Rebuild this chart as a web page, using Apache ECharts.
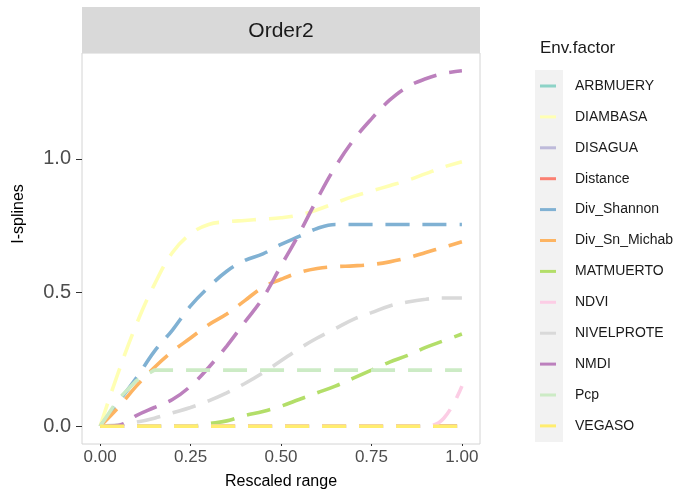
<!DOCTYPE html>
<html>
<head>
<meta charset="utf-8">
<script src="https://cdn.jsdelivr.net/npm/echarts@6/dist/echarts.min.js"></script>
<style>html,body{margin:0;padding:0;background:#fff}#c{width:675px;height:493px}</style>
</head>
<body>
<div id="c"></div>
<script>
const xs = [0,0.05,0.1,0.15,0.2,0.25,0.3,0.35,0.4,0.45,0.5,0.55,0.6,0.65,0.7,0.75,0.8,0.85,0.9,0.95,1.0];
const factors = ['ARBMUERY','DIAMBASA','DISAGUA','Distance','Div_Shannon','Div_Sn_Michab','MATMUERTO','NDVI','NIVELPROTE','NMDI','Pcp','VEGASO'];
const colors = ['#8DD3C7','#FFFFB3','#BEBADA','#FB8072','#80B1D3','#FDB462','#B3DE69','#FCCDE5','#D9D9D9','#BC80BD','#CCEBC5','#FFED6F'];
const ARBMUERY     = [0,0,0,0,0,0,0,0,0,0,0,0,0,0,0,0,0,0,0,0,0];
const DIAMBASA     = [0,0.2,0.38,0.53,0.65,0.72,0.755,0.765,0.77,0.775,0.78,0.79,0.81,0.835,0.86,0.88,0.9,0.92,0.945,0.97,0.99];
const DISAGUA      = [0,0,0,0,0,0,0,0,0,0,0,0,0,0,0,0,0,0,0,0,0];
const Distance     = [0,0,0,0,0,0,0,0,0,0,0,0,0,0,0,0,0,0,0,0,0];
const Div_Shannon  = [0,0.09,0.18,0.28,0.36,0.45,0.52,0.58,0.62,0.645,0.68,0.71,0.74,0.755,0.755,0.755,0.755,0.755,0.755,0.755,0.755];
const Div_Sn_Michab= [0,0.07,0.15,0.22,0.28,0.33,0.38,0.42,0.47,0.52,0.55,0.575,0.59,0.597,0.6,0.605,0.615,0.63,0.65,0.67,0.69];
const MATMUERTO    = [0,0,0,0,0,0,0.01,0.02,0.04,0.055,0.075,0.1,0.125,0.15,0.18,0.21,0.24,0.265,0.295,0.32,0.345];
const NDVI         = [0,0,0,0,0,0,0,0,0,0,0,0,0,0,0,0,0,0,0,0.03,0.15];
const NIVELPROTE   = [0,0.005,0.015,0.03,0.05,0.07,0.095,0.125,0.16,0.2,0.245,0.29,0.33,0.365,0.4,0.425,0.45,0.465,0.475,0.48,0.48];
const NMDI         = [0,0.003,0.04,0.07,0.1,0.15,0.22,0.3,0.39,0.48,0.6,0.72,0.85,0.97,1.07,1.15,1.22,1.27,1.3,1.32,1.33];
const Pcp          = [0,0.1,0.17,0.21,0.21,0.21,0.21,0.21,0.21,0.21,0.21,0.21,0.21,0.21,0.21,0.21,0.21,0.21,0.21,0.21,0.21];
const VEGASO       = [0,0,0,0,0,0,0,0,0,0,0,0,0,0,0,0,0,0,0,0,0];
const values = [ARBMUERY,DIAMBASA,DISAGUA,Distance,Div_Shannon,Div_Sn_Michab,MATMUERTO,NDVI,NIVELPROTE,NMDI,Pcp,VEGASO];
const xTicks = [0,0.25,0.5,0.75,1];
const yTicks = [0,0.5,1];
const smoothFlags = [false,true,false,false,true,true,true,true,true,true,false,false];

const FONT = 'Liberation Sans, Arial, sans-serif';
const chart = echarts.init(document.getElementById('c'));
const series = factors.map((name,i)=>({
  name, type:'line', showSymbol:false, symbol:'none',
  smooth: smoothFlags[i] ? 0.4 : false,
  data: xs.map((x,j)=>[x, values[i][j]]),
  lineStyle:{color:colors[i], width:3.6, type:[24,13], cap:'butt'},
  itemStyle:{color:colors[i]},
  animation:false
}));
chart.setOption({
  animation:false,
  backgroundColor:'#fff',
  textStyle:{fontFamily:FONT},
  graphic:[
    {type:'rect', shape:{x:82,y:7,width:398,height:46}, style:{fill:'#D9D9D9'}, z:0},
    {type:'text', style:{text:'Order2', x:281, y:31, fill:'#1a1a1a', font:'21px ' + FONT, textAlign:'center', textVerticalAlign:'middle'}, z:1},
    {type:'text', rotation:Math.PI/2, x:19, y:214, style:{text:'I-splines', x:0, y:0, fill:'#000', font:'16px ' + FONT, textAlign:'center', textVerticalAlign:'middle'}, z:1},
    {type:'rect', shape:{x:535,y:70,width:28,height:372}, style:{fill:'#F2F2F2'}, z:0}
  ],
  grid:{left:82, right:195, top:53, bottom:49, containLabel:false, outerBoundsMode:'none',
        show:true, borderColor:'#D4D4D4', borderWidth:1, backgroundColor:'#fff'},
  xAxis:{
    type:'value', min:-0.05, max:1.05,
    name:'Rescaled range', nameLocation:'middle', nameGap:30,
    nameTextStyle:{color:'#000', fontSize:16},
    axisLine:{show:false, onZero:false},
    axisTick:{show:true, customValues:xTicks, length:2, lineStyle:{color:'#333'}},
    axisLabel:{customValues:xTicks, formatter:v=>v.toFixed(2), color:'#4D4D4D', fontSize:17, margin:5},
    splitLine:{show:false}
  },
  yAxis:{
    type:'value', min:-0.0665, max:1.3965,
    axisLine:{show:false, onZero:false},
    axisTick:{show:true, customValues:yTicks, length:6, lineStyle:{color:'#333'}},
    axisLabel:{customValues:yTicks, formatter:v=>v.toFixed(1), color:'#4D4D4D', fontSize:20, margin:11},
    splitLine:{show:false}
  },
  legend:{
    orient:'vertical', left:540, top:79, padding:0,
    data:factors,
    icon:'rect', itemWidth:16, itemHeight:3, itemGap:16.9,
    textStyle:{color:'#1a1a1a', fontSize:14, padding:[0,0,0,14], lineHeight:14},
    selectedMode:false
  },
  title:{text:'Env.factor', left:535, top:35, textStyle:{fontSize:17, fontWeight:'normal', color:'#1a1a1a'}},
  series
});
</script>
</body>
</html>
